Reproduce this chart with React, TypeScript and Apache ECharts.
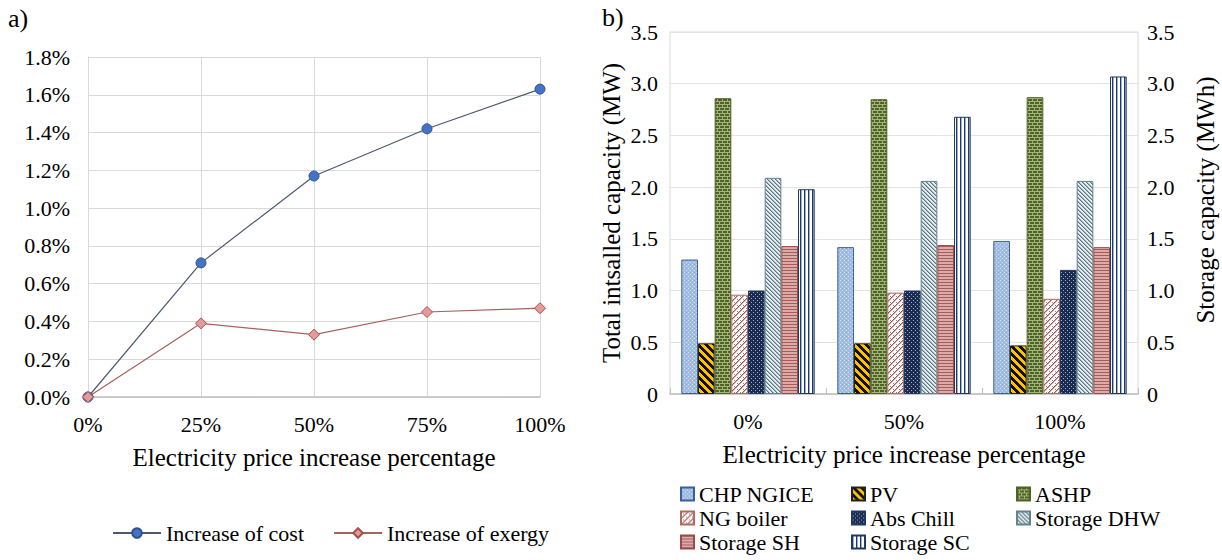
import { useEffect, useRef } from 'react';
import * as echarts from 'echarts';

// Panel a) — relative increase versus electricity price increase
const priceSteps = ['0%', '25%', '50%', '75%', '100%'];
const costIncrease = [0, 0.71, 1.17, 1.42, 1.63];
const exergyIncrease = [0, 0.39, 0.33, 0.45, 0.47];
const percentTicks = { min: 0, max: 1.8, interval: 0.2 };

// Panel b) — installed capacities per scenario
const scenarios = ['0%', '50%', '100%'];
const chpNgice = [1.3, 1.42, 1.48];
const pv = [0.49, 0.49, 0.47];
const ashp = [2.86, 2.85, 2.87];
const ngBoiler = [0.96, 0.98, 0.92];
const absChill = [1.0, 1.0, 1.2];
const storageDhw = [2.09, 2.06, 2.06];
const storageSh = [1.43, 1.44, 1.42];
const storageSc = [1.98, 2.68, 3.07];
const capacityTicks = { min: 0, max: 3.5, interval: 0.5 };

const legendCol1 = ['CHP NGICE', 'NG boiler', 'Storage SH'];
const legendCol2 = ['PV', 'Abs Chill', 'Storage SC'];
const legendCol3 = ['ASHP', 'Storage DHW'];

const FONT = 'Liberation Serif, Times New Roman, serif';

type Ctx = CanvasRenderingContext2D;

function tile(w: number, h: number, draw: (g: Ctx) => void) {
  const c = document.createElement('canvas');
  c.width = w;
  c.height = h;
  const g = c.getContext('2d') as Ctx;
  draw(g);
  return { image: c, repeat: 'repeat' as const };
}

function px(g: Ctx, x: number, y: number, color: string) {
  g.fillStyle = color;
  g.fillRect(x, y, 1, 1);
}

function buildPatterns() {
  const chp = tile(4, 4, (g) => {
    g.fillStyle = '#a2bde2';
    g.fillRect(0, 0, 4, 4);
    px(g, 0, 0, '#d3e0f3');
    px(g, 2, 2, '#d3e0f3');
    px(g, 2, 0, '#8aa8d6');
  });
  const pvFill = tile(8, 8, (g) => {
    for (let y = 0; y < 8; y++)
      for (let x = 0; x < 8; x++) {
        const d = (((x - y) % 8) + 8) % 8;
        px(g, x, y, d < 4 ? '#111111' : '#ffc000');
      }
  });
  const brick = tile(10, 6, (g) => {
    g.fillStyle = '#a3b679';
    g.fillRect(0, 0, 10, 6);
    g.fillStyle = '#4f6228';
    g.fillRect(0, 0, 4, 2);
    g.fillRect(5, 0, 4, 2);
    g.fillRect(0, 3, 2, 2);
    g.fillRect(3, 3, 4, 2);
    g.fillRect(8, 3, 2, 2);
  });
  const boiler = tile(6, 6, (g) => {
    g.fillStyle = '#ffffff';
    g.fillRect(0, 0, 6, 6);
    for (let y = 0; y < 6; y++)
      for (let x = 0; x < 6; x++) {
        const d = (x + y) % 6;
        if (d === 0) px(g, x, y, '#9c5652');
        else if (d === 1) px(g, x, y, '#d6aeab');
      }
    px(g, 2, 2, '#b27874');
    px(g, 5, 5, '#b27874');
  });
  const chill = tile(4, 4, (g) => {
    g.fillStyle = '#1a2b4e';
    g.fillRect(0, 0, 4, 4);
    px(g, 1, 0, '#9fb2d4');
    px(g, 3, 2, '#9fb2d4');
  });
  const dhw = tile(4, 4, (g) => {
    g.fillStyle = '#e6ecee';
    g.fillRect(0, 0, 4, 4);
    for (let y = 0; y < 4; y++)
      for (let x = 0; x < 4; x++) {
        const d = (((x - y) % 4) + 4) % 4;
        if (d === 0) px(g, x, y, '#557480');
        else if (d === 1) px(g, x, y, '#a3b6bd');
      }
  });
  const sh = tile(2, 3, (g) => {
    g.fillStyle = '#ddabaa';
    g.fillRect(0, 0, 2, 3);
    g.fillStyle = '#a25d5a';
    g.fillRect(0, 0, 2, 1);
  });
  const sc = tile(4, 2, (g) => {
    g.fillStyle = '#ffffff';
    g.fillRect(0, 0, 4, 2);
    g.fillStyle = '#1f3864';
    g.fillRect(0, 0, 1, 2);
    g.fillStyle = '#9db1d6';
    g.fillRect(1, 0, 1, 2);
  });
  return { chp, pvFill, brick, boiler, chill, dhw, sh, sc };
}

export default function App() {
  const ref = useRef<HTMLDivElement>(null);

  useEffect(() => {
    if (!ref.current) return;
    const chart = echarts.init(ref.current, undefined, { renderer: 'svg' });
    const p = buildPatterns();

    const axisText = { color: '#000', fontFamily: FONT, fontSize: 22 };
    const nameText = { color: '#000', fontFamily: FONT, fontSize: 25 };

    const bar = (
      name: string,
      data: number[],
      fill: unknown,
      border: string,
      yAxisIndex: number
    ) => ({
      name,
      type: 'bar',
      xAxisIndex: 1,
      yAxisIndex,
      data,
      barGap: '0%',
      barCategoryGap: '14.5%',
      itemStyle: { color: fill, borderColor: border, borderWidth: 1 },
    });

    const legendCol = (data: string[], left: number) => ({
      data,
      orient: 'vertical',
      left,
      top: 483,
      height: 90,
      padding: 0,
      itemGap: 2,
      itemWidth: 13,
      itemHeight: 13,
      icon: 'rect',
      textStyle: { color: '#000', fontFamily: FONT, fontSize: 22 },
    });

    chart.setOption({
      animation: false,
      backgroundColor: '#ffffff',
      textStyle: { fontFamily: FONT },
      graphic: [
        { type: 'text', left: 8, top: 5, style: { text: 'a)', fill: '#000', fontFamily: FONT, fontSize: 26 } },
        { type: 'text', left: 602, top: 4, style: { text: 'b)', fill: '#000', fontFamily: FONT, fontSize: 26 } },
      ],
      grid: [
        { left: 88, top: 57, width: 452, height: 340 },
        {
          left: 670,
          top: 32,
          width: 468,
          height: 362,
          show: true,
          borderColor: '#d9d9d9',
          borderWidth: 1,
        },
      ],
      legend: [
        {
          data: ['Increase of cost', 'Increase of exergy'],
          left: 112,
          top: 522,
          padding: 0,
          itemWidth: 48,
          itemHeight: 12,
          itemGap: 29,
          textStyle: { color: '#000', fontFamily: FONT, fontSize: 22 },
        },
        legendCol(legendCol1, 680),
        legendCol(legendCol2, 851),
        legendCol(legendCol3, 1016),
      ],
      xAxis: [
        {
          type: 'category',
          gridIndex: 0,
          data: priceSteps,
          boundaryGap: false,
          axisLine: { lineStyle: { color: '#bfbfbf', width: 1.5 } },
          axisTick: { show: false },
          axisLabel: { ...axisText, margin: 16 },
          splitLine: { show: true, lineStyle: { color: '#d9d9d9' } },
          name: 'Electricity price increase percentage',
          nameLocation: 'middle',
          nameGap: 48,
          nameTextStyle: nameText,
        },
        {
          type: 'category',
          gridIndex: 1,
          data: scenarios,
          axisLine: { lineStyle: { color: '#bfbfbf', width: 1.5 } },
          axisTick: { show: true, inside: true, length: 6, lineStyle: { color: '#bfbfbf' } },
          axisLabel: { ...axisText, margin: 16 },
          splitLine: { show: false },
          name: 'Electricity price increase percentage',
          nameLocation: 'middle',
          nameGap: 48,
          nameTextStyle: nameText,
        },
      ],
      yAxis: [
        {
          type: 'value',
          gridIndex: 0,
          ...percentTicks,
          axisLine: { show: true, lineStyle: { color: '#d9d9d9' } },
          axisTick: { show: false },
          axisLabel: { ...axisText, margin: 18, formatter: (v: number) => `${v.toFixed(1)}%` },
          splitLine: { show: true, lineStyle: { color: '#d9d9d9' } },
        },
        {
          type: 'value',
          gridIndex: 1,
          position: 'left',
          ...capacityTicks,
          axisLine: { show: false },
          axisTick: { show: false },
          axisLabel: {
            ...axisText,
            margin: 12,
            formatter: (v: number) => (v === 0 ? '0' : v.toFixed(1)),
          },
          splitLine: { show: true, lineStyle: { color: '#e3e3e3' } },
          name: 'Total intsalled capacity (MW)',
          nameLocation: 'middle',
          nameRotate: 90,
          nameGap: 46,
          nameTextStyle: nameText,
        },
        {
          type: 'value',
          gridIndex: 1,
          position: 'right',
          ...capacityTicks,
          axisLine: { show: false },
          axisTick: { show: false },
          axisLabel: {
            ...axisText,
            margin: 9,
            formatter: (v: number) => (v === 0 ? '0' : v.toFixed(1)),
          },
          splitLine: { show: false },
          name: 'Storage capacity (MWh)',
          nameLocation: 'middle',
          nameRotate: 90,
          nameGap: 55,
          nameTextStyle: { ...nameText, padding: [0, 0, 0, 26] },
        },
      ],
      series: [
        {
          name: 'Increase of cost',
          type: 'line',
          xAxisIndex: 0,
          yAxisIndex: 0,
          data: costIncrease,
          symbol: 'circle',
          symbolSize: 10,
          lineStyle: { color: '#4d5a6e', width: 1.2 },
          itemStyle: { color: '#4472c4', borderColor: '#2f528f', borderWidth: 1 },
        },
        {
          name: 'Increase of exergy',
          type: 'line',
          xAxisIndex: 0,
          yAxisIndex: 0,
          data: exergyIncrease,
          symbol: 'diamond',
          symbolSize: 11,
          lineStyle: { color: '#a5625f', width: 1.2 },
          itemStyle: { color: '#e59a9c', borderColor: '#a5504d', borderWidth: 1 },
        },
        bar('CHP NGICE', chpNgice, p.chp, '#3b5f9e', 1),
        bar('PV', pv, p.pvFill, '#222222', 1),
        bar('ASHP', ashp, p.brick, '#4f6228', 1),
        bar('NG boiler', ngBoiler, p.boiler, '#b06a66', 1),
        bar('Abs Chill', absChill, p.chill, '#1f3864', 1),
        bar('Storage DHW', storageDhw, p.dhw, '#62828c', 2),
        bar('Storage SH', storageSh, p.sh, '#9a4a47', 2),
        bar('Storage SC', storageSc, p.sc, '#1f3864', 2),
      ],
    });

    return () => chart.dispose();
  }, []);

  return (
    <div
      ref={ref}
      style={{ position: 'fixed', left: 0, top: 0, width: 1222, height: 560, background: '#fff' }}
    />
  );
}
